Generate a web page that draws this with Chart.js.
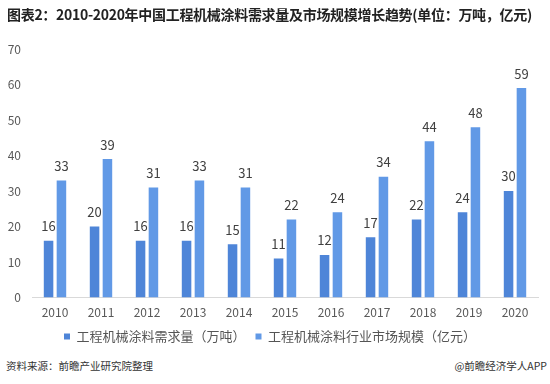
<!DOCTYPE html>
<html><head><meta charset="utf-8">
<script src="https://cdn.jsdelivr.net/npm/chart.js@4"></script>
<style>
html,body{margin:0;padding:0;background:#fff;}
#wrap{position:relative;width:550px;height:384px;overflow:hidden;}
#title{position:absolute;left:7px;top:4px;font:bold 14px "Noto Sans CJK SC",sans-serif;color:#222;white-space:nowrap;letter-spacing:-0.3px;}
#src{position:absolute;left:6px;top:358px;font:10.5px "Noto Sans CJK SC",sans-serif;color:#333;}
#app{position:absolute;right:3px;top:358px;font:10.5px "Noto Sans CJK SC",sans-serif;color:#333;}
#c{position:absolute;left:0;top:0;}
</style></head>
<body><div id="wrap">
<canvas id="c" width="550" height="353"></canvas>
<div id="title">图表2：2010-2020年中国工程机械涂料需求量及市场规模增长趋势(单位：万吨，亿元)</div>
<div id="src">资料来源：前瞻产业研究院整理</div>
<div id="app">@前瞻经济学人APP</div>
</div>
<script>
const categories = ["2010","2011","2012","2013","2014","2015","2016","2017","2018","2019","2020"];
const demand = [16,20,16,16,15,11,12,17,22,24,30];
const market = [33,39,31,33,31,22,24,34,44,48,59];
const seriesNames = ["工程机械涂料需求量（万吨）","工程机械涂料行业市场规模（亿元）"];
const yTicks = [0,10,20,30,40,50,60,70];

const valueLabels = {
  id:'valueLabels',
  afterDatasetsDraw(chart){
    const ctx = chart.ctx;
    ctx.save();
    ctx.font = '13px "Noto Sans CJK SC", sans-serif';
    ctx.fillStyle = '#404040';
    ctx.textAlign = 'center';
    ctx.textBaseline = 'bottom';
    chart.data.datasets.forEach((ds,i)=>{
      chart.getDatasetMeta(i).data.forEach((bar,j)=>{
        ctx.fillText(String(ds.data[j]), bar.x, bar.y - 8);
      });
    });
    ctx.restore();
  }
};

new Chart(document.getElementById('c'), {
  type:'bar',
  data:{
    labels:categories,
    datasets:[
      {label:seriesNames[0], data:demand, backgroundColor:'#4E85D8', categoryPercentage:0.56, barPercentage:0.74},
      {label:seriesNames[1], data:market, backgroundColor:'#6199E6', categoryPercentage:0.56, barPercentage:0.74}
    ]
  },
  options:{
    responsive:false,
    animation:false,
    layout:{padding:{top:49,right:12,left:2,bottom:0}},
    plugins:{
      title:{display:false},
      tooltip:{enabled:false},
      legend:{
        position:'bottom',
        labels:{
          boxWidth:6, boxHeight:6, padding:10,
          color:'#555',
          font:{size:13, family:'"Noto Sans CJK SC", sans-serif'}
        }
      }
    },
    scales:{
      x:{
        grid:{display:false},
        border:{display:true,color:'#d9d9d9'},
        ticks:{color:'#595959',font:{size:12,family:'"Noto Sans CJK SC", sans-serif'},padding:0}
      },
      y:{
        min:0,max:70,
        afterBuildTicks(axis){ axis.ticks = yTicks.map(v=>({value:v})); },
        afterFit(axis){ axis.width = 30; },
        grid:{display:false},
        border:{display:false},
        ticks:{color:'#595959',font:{size:12,family:'"Noto Sans CJK SC", sans-serif'},padding:3}
      }
    }
  },
  plugins:[valueLabels]
});
</script>
</body></html>
